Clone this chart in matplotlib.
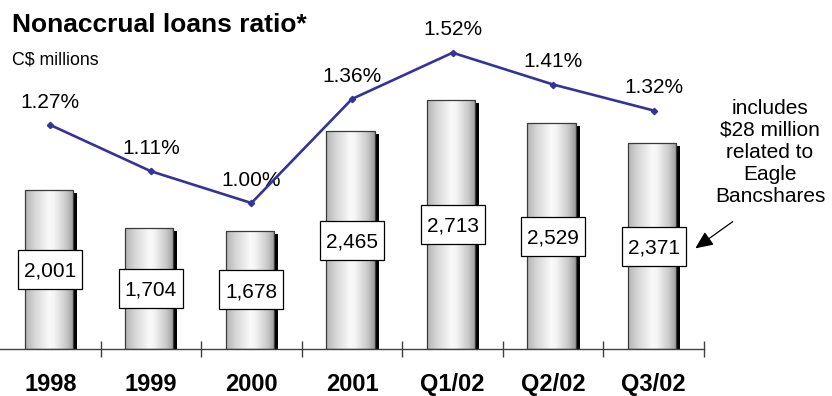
import numpy as np
import matplotlib
matplotlib.use("Agg")
import matplotlib.pyplot as plt
from matplotlib.colors import LinearSegmentedColormap
from matplotlib.patches import Rectangle, FancyArrowPatch

plt.rcParams['font.family'] = ['Liberation Sans', 'DejaVu Sans']

categories = ["1998", "1999", "2000", "2001", "Q1/02", "Q2/02", "Q3/02"]
loans = [2001, 1704, 1678, 2465, 2713, 2529, 2371]
ratio = [1.27, 1.11, 1.00, 1.36, 1.52, 1.41, 1.32]
note = "includes\n$28 million\nrelated to\nEagle\nBancshares"

W, H = 832, 396
fig = plt.figure(figsize=(W / 100, H / 100), dpi=100)
base_px = 349
ax = fig.add_axes([0, (H - base_px) / H, 704 / W, base_px / H])
ax.set_xlim(-0.5, 6.5)
y_lo, y_hi = 743, 3504
ax.set_ylim(y_lo, y_hi)
px_per_unit = base_px / (y_hi - y_lo)
px_per_cat = 704 / 7

# cylinder shading across each bar
cyl = LinearSegmentedColormap.from_list(
    "cyl",
    [(0.0, "#b4b4b4"), (0.2, "#d6d6d6"), (0.5, "#fafafa"), (0.6, "#f4f4f4"),
     (0.85, "#c8c8c8"), (1.0, "#9a9a9a")])
grad = np.linspace(0, 1, 256).reshape(1, -1)

bw = 0.48
shadow_dx = 4 / px_per_cat
box_w = 64 / px_per_cat
box_h = 39 / px_per_unit
for i, v in enumerate(loans):
    x0 = i - 0.015 - bw / 2
    # drop shadow on the right side
    ax.add_patch(Rectangle((x0 + shadow_dx, y_lo), bw, v - y_lo - 3 / px_per_unit,
                           facecolor="black", edgecolor="none", zorder=1))
    im = ax.imshow(grad, cmap=cyl, aspect="auto",
                   extent=(x0, x0 + bw, y_lo, v), zorder=2, interpolation="bilinear")
    rect = Rectangle((x0, y_lo), bw, v - y_lo, facecolor="none",
                     edgecolor="#3a3a3a", linewidth=0.9, zorder=3)
    ax.add_patch(rect)
    im.set_clip_path(rect)
    yc = (v + y_lo) / 2
    ax.add_patch(Rectangle((i - box_w / 2, yc - box_h / 2), box_w, box_h,
                           facecolor="white", edgecolor="black", linewidth=0.9,
                           zorder=4))
    ax.text(i, yc, f"{v:,}", ha="center", va="center_baseline", fontsize=15,
            zorder=5)

ax.set_xlim(-0.5, 6.5)
ax.set_ylim(y_lo, y_hi)

for s in ["top", "left", "right"]:
    ax.spines[s].set_visible(False)
ax.spines["bottom"].set_color("#404040")
ax.spines["bottom"].set_linewidth(1.0)
ax.set_yticks([])
ax.set_xticks(np.arange(0.5, 7, 1.0))
ax.set_xticklabels([])
ax.tick_params(axis="x", direction="inout", length=11.5, width=1.0, color="#404040")

for i, c in enumerate(categories):
    fig.text((i + 0.5) * px_per_cat / W, 1 - 391 / H, c, ha="center", va="baseline",
             fontsize=17, fontweight="bold")

# ratio line on its own scale
ax2 = ax.twinx()
ax2.set_ylim(0.495, 1.7024)
ax2.axis("off")
xs = np.arange(len(ratio))
ax2.plot(xs, ratio, color="#333399", linewidth=1.9, marker="D", markersize=3.2,
         zorder=6, clip_on=False)
for i, r in enumerate(ratio):
    ax2.annotate(f"{r:.2f}%", (i, r), xytext=(0, 16.5), textcoords="offset points",
                 ha="center", va="center", fontsize=15, annotation_clip=False)

fig.text(12 / W, 1 - 32 / H, "Nonaccrual loans ratio*", fontsize=19,
         fontweight="bold", ha="left", va="baseline")
fig.text(12 / W, 1 - 65 / H, "C$ millions", fontsize=12.8, ha="left", va="baseline")

fig.text(770 / W, 1 - 152 / H, note, ha="center", va="center",
         multialignment="center", fontsize=15, linespacing=1.2)
fig.add_artist(FancyArrowPatch(
    (735 / W, 1 - 220 / H), (693 / W, 1 - 250 / H), transform=fig.transFigure,
    arrowstyle="-|>,head_length=9,head_width=4", color="black", linewidth=0.9,
    mutation_scale=1.2))

fig.savefig("out.png", dpi=100)
